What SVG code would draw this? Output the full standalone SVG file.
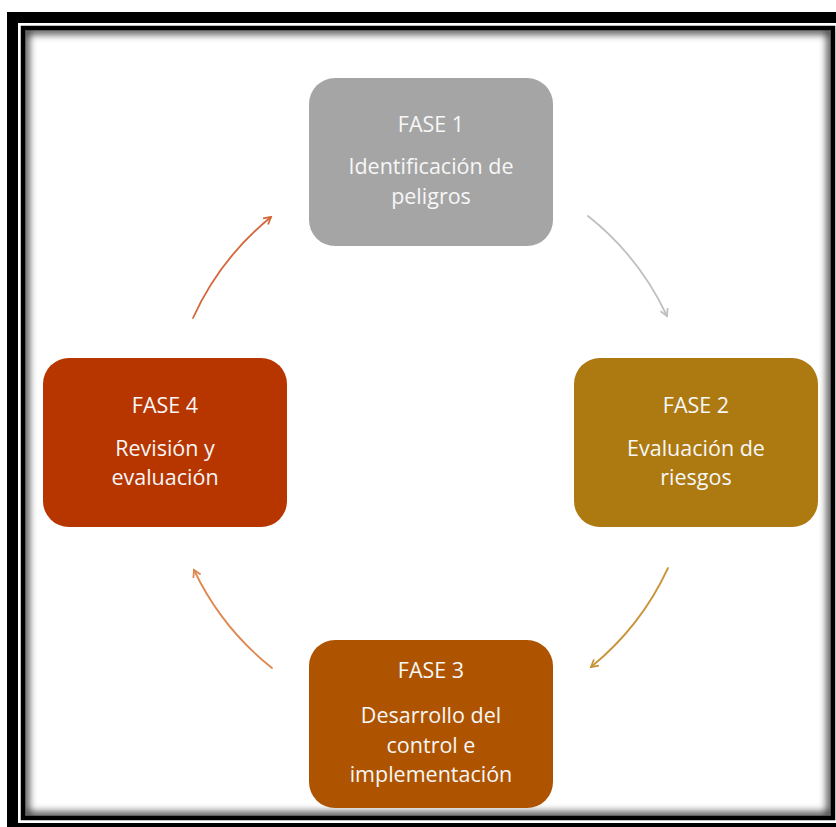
<svg xmlns="http://www.w3.org/2000/svg" width="836" height="827" viewBox="0 0 836 827">
<defs>
<style>
.node text{font-family:"Open Sans",Lato,"Liberation Sans",sans-serif;font-size:21.5px;fill:#f7f7f7;text-anchor:middle}
.conn path{fill:none;stroke-width:1.8;stroke-linecap:round}
</style>
<clipPath id="inner"><rect x="25" y="30" width="806" height="786"/></clipPath>
<filter id="blur" x="-10%" y="-10%" width="120%" height="120%"><feGaussianBlur stdDeviation="4"/></filter>
<marker id="mg" viewBox="0 0 10 10" refX="8" refY="5" markerWidth="10" markerHeight="10" markerUnits="userSpaceOnUse" orient="auto"><path d="M1,1 L8,5 L1,9" fill="none" stroke="#c0c0c0" stroke-width="1.8"/></marker>
<marker id="my" viewBox="0 0 10 10" refX="8" refY="5" markerWidth="10" markerHeight="10" markerUnits="userSpaceOnUse" orient="auto"><path d="M1,1 L8,5 L1,9" fill="none" stroke="#c9953a" stroke-width="1.8"/></marker>
<marker id="mo" viewBox="0 0 10 10" refX="8" refY="5" markerWidth="10" markerHeight="10" markerUnits="userSpaceOnUse" orient="auto"><path d="M1,1 L8,5 L1,9" fill="none" stroke="#de8850" stroke-width="1.8"/></marker>
<marker id="mr" viewBox="0 0 10 10" refX="8" refY="5" markerWidth="10" markerHeight="10" markerUnits="userSpaceOnUse" orient="auto"><path d="M1,1 L8,5 L1,9" fill="none" stroke="#d4683c" stroke-width="1.8"/></marker>
</defs>
<rect width="836" height="827" fill="#ffffff"/>
<g id="frame">
<rect x="12.5" y="17.5" width="830" height="811" fill="none" stroke="#000" stroke-width="11"/>
<rect x="23" y="28" width="810" height="790" fill="none" stroke="#000" stroke-width="4.5"/>
<g clip-path="url(#inner)"><rect x="25" y="30" width="806" height="786" fill="none" stroke="#000" stroke-width="6" filter="url(#blur)"/></g>
</g>
<g id="connectors" class="conn">
<path d="M588,216 A278,278 0 0 1 667,316" stroke="#c0c0c0" marker-end="url(#mg)"/>
<path d="M668,568 A278,278 0 0 1 591,667" stroke="#c9953a" marker-end="url(#my)"/>
<path d="M272,668 A278,278 0 0 1 194,570" stroke="#de8850" marker-end="url(#mo)"/>
<path d="M193,318 A278,278 0 0 1 271,217" stroke="#d4683c" marker-end="url(#mr)"/>
</g>
<g id="fase1" class="node">
<rect x="309" y="78" width="244" height="168" rx="26" fill="#a5a5a5"/>
<text x="431" y="132">FASE 1</text>
<text x="431" y="174">Identificación de</text>
<text x="431" y="204">peligros</text>
</g>
<g id="fase2" class="node">
<rect x="574" y="358" width="244" height="169" rx="26" fill="#ad7a12"/>
<text x="696" y="413">FASE 2</text>
<text x="696" y="456">Evaluación de</text>
<text x="696" y="485">riesgos</text>
</g>
<g id="fase3" class="node">
<rect x="309" y="640" width="244" height="168" rx="26" fill="#ae5400"/>
<text x="431" y="678">FASE 3</text>
<text x="431" y="723">Desarrollo del</text>
<text x="431" y="753">control e</text>
<text x="431" y="782">implementación</text>
</g>
<g id="fase4" class="node">
<rect x="43" y="358" width="244" height="169" rx="26" fill="#b73600"/>
<text x="165" y="413">FASE 4</text>
<text x="165" y="456">Revisión y</text>
<text x="165" y="485">evaluación</text>
</g>
</svg>
